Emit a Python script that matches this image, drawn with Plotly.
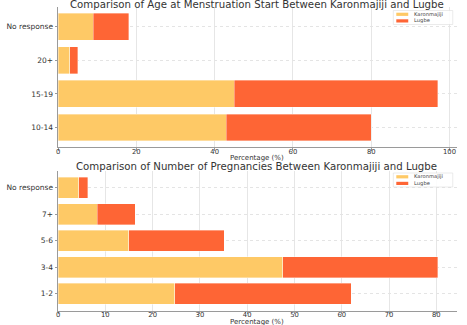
import plotly.graph_objects as go

# Age at first menstruation (%)
age_groups = ["10-14", "15-19", "20+", "No response"]
age_karonmajiji = [43, 45, 3, 9]
age_lugbe = [37, 52, 2, 9]

# Number of pregnancies (%)
preg_groups = ["1-2", "3-4", "5-6", "7+", "No response"]
preg_karonmajiji = [24.7, 47.5, 15.0, 8.3, 4.4]
preg_lugbe = [37.3, 32.8, 20.1, 8.0, 1.9]

series_names = ["Karonmajiji", "Lugbe"]
colors = ["#FEC966", "#FE6535"]

W, H = 467, 325
FONT = "DejaVu Sans"

fig = go.Figure()

panels = [
    (age_groups, [age_karonmajiji, age_lugbe], "x", "y"),
    (preg_groups, [preg_karonmajiji, preg_lugbe], "x2", "y2"),
]
for cats, vals, xa, ya in panels:
    for name, v, c in zip(series_names, vals, colors):
        fig.add_trace(go.Bar(
            y=cats, x=v, name=name, orientation="h",
            marker=dict(color=c, line=dict(color="rgba(255,255,255,0.6)", width=0.6)),
            xaxis=xa, yaxis=ya, showlegend=False,
        ))

def px_x(p):
    return p / W

def px_y(p):
    return 1 - p / H

x_dom = [px_x(56.3), px_x(456.7)]
top_dom = [px_y(147.3), px_y(6.9)]
bot_dom = [px_y(310.8), px_y(170.7)]

axis_common = dict(
    showline=True, linecolor="#9a9a9a", linewidth=1,
    ticks="outside", ticklen=2.5, tickcolor="#9a9a9a", tickwidth=0.8,
    zeroline=False,
)
xtick_font = dict(family=FONT, size=6.8, color="#333333")
ytick_font = dict(family=FONT, size=7.5, color="#333333")

top_total = max(a + b for a, b in zip(age_karonmajiji, age_lugbe))
bot_total = max(a + b for a, b in zip(preg_karonmajiji, preg_lugbe))

fig.update_layout(
    width=W, height=H,
    margin=dict(l=0, r=0, t=0, b=0),
    paper_bgcolor="white", plot_bgcolor="white",
    barmode="stack", bargap=0.2,
    font=dict(family=FONT, color="#333333"),
    xaxis=dict(domain=x_dom, anchor="y", range=[0, top_total * 1.05],
               tickvals=[0, 20, 40, 60, 80, 100], tickfont=xtick_font,
               ticklabelstandoff=-5,
               showgrid=True, gridcolor="#e6e6e6", gridwidth=0.8, **axis_common),
    yaxis=dict(domain=top_dom, anchor="x", type="category",
               categoryorder="array", categoryarray=age_groups,
               range=[-0.59, len(age_groups) - 1 + 0.59], tickfont=ytick_font,
               showgrid=True, gridcolor="#e4e4e4", gridwidth=0.8, griddash="dot",
               **axis_common),
    xaxis2=dict(domain=x_dom, anchor="y2", range=[0, bot_total * 1.05],
                tickvals=[0, 10, 20, 30, 40, 50, 60, 70, 80], tickfont=xtick_font,
                ticklabelstandoff=-5,
                showgrid=True, gridcolor="#e6e6e6", gridwidth=0.8, **axis_common),
    yaxis2=dict(domain=bot_dom, anchor="x2", type="category",
                categoryorder="array", categoryarray=preg_groups,
                range=[-0.64, len(preg_groups) - 1 + 0.64], tickfont=ytick_font,
                showgrid=True, gridcolor="#e4e4e4", gridwidth=0.8, griddash="dot",
                **axis_common),
)

title_font = dict(family=FONT, size=10.2, color="#333333")
label_font = dict(family=FONT, size=7, color="#333333")
annotations = [
    dict(text="Comparison of Age at Menstruation Start Between Karonmajiji and Lugbe",
         x=px_x(256), y=px_y(5), xref="paper", yref="paper",
         xanchor="center", yanchor="middle", showarrow=False, font=title_font),
    dict(text="Comparison of Number of Pregnancies Between Karonmajiji and Lugbe",
         x=px_x(256), y=px_y(166.5), xref="paper", yref="paper",
         xanchor="center", yanchor="middle", showarrow=False, font=title_font),
    dict(text="Percentage (%)", x=px_x(256), y=px_y(157.5), xref="paper", yref="paper",
         xanchor="center", yanchor="middle", showarrow=False, font=label_font),
    dict(text="Percentage (%)", x=px_x(256), y=px_y(321.5), xref="paper", yref="paper",
         xanchor="center", yanchor="middle", showarrow=False, font=label_font),
]

# Legend boxes drawn in the upper right of each panel
shapes = []
leg_font = dict(family=FONT, size=5.2, color="#444444")
for top in (10.5, 173.0):
    shapes.append(dict(type="rect", xref="paper", yref="paper",
                       x0=px_x(393), x1=px_x(452.7), y0=px_y(top + 14), y1=px_y(top),
                       line=dict(color="#dddddd", width=0.6), fillcolor="rgba(255,255,255,0.85)",
                       layer="above"))
    for i, (name, c) in enumerate(zip(series_names, colors)):
        cy = top + 3.8 + i * 6.6
        shapes.append(dict(type="rect", xref="paper", yref="paper",
                           x0=px_x(396), x1=px_x(408), y0=px_y(cy + 1.6), y1=px_y(cy - 1.6),
                           line=dict(width=0), fillcolor=c, layer="above"))
        annotations.append(dict(text=name, x=px_x(412), y=px_y(cy), xref="paper", yref="paper",
                                xanchor="left", yanchor="middle", showarrow=False, font=leg_font))

fig.update_layout(annotations=annotations, shapes=shapes)

fig.write_html("out.html")
